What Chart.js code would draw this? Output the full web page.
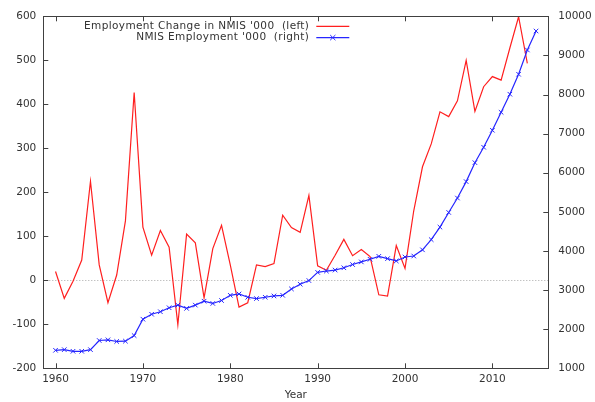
<!DOCTYPE html>
<html>
<head>
<meta charset="utf-8">
<script src="https://cdn.jsdelivr.net/npm/chart.js@4/dist/chart.umd.min.js"></script>
<style>
  html, body { margin: 0; padding: 0; background: #fff; }
  #wrap { width: 595px; height: 402px; position: relative; }
</style>
</head>
<body>
<div id="wrap"><canvas id="c" width="595" height="402"></canvas></div>
<script>
// Years for the employment level series (right axis)
const YEARS_LEVEL = [
  1960, 1961, 1962, 1963, 1964, 1965, 1966, 1967, 1968, 1969,
  1970, 1971, 1972, 1973, 1974, 1975, 1976, 1977, 1978, 1979,
  1980, 1981, 1982, 1983, 1984, 1985, 1986, 1987, 1988, 1989,
  1990, 1991, 1992, 1993, 1994, 1995, 1996, 1997, 1998, 1999,
  2000, 2001, 2002, 2003, 2004, 2005, 2006, 2007, 2008, 2009,
  2010, 2011, 2012, 2013, 2014, 2015
];
// Years for the yearly change series (left axis)
const YEARS_CHANGE = [
  1960, 1961, 1962, 1963, 1964, 1965, 1966, 1967, 1968, 1969,
  1970, 1971, 1972, 1973, 1974, 1975, 1976, 1977, 1978, 1979,
  1980, 1981, 1982, 1983, 1984, 1985, 1986, 1987, 1988, 1989,
  1990, 1991, 1992, 1993, 1994, 1995, 1996, 1997, 1998, 1999,
  2000, 2001, 2002, 2003, 2004, 2005, 2006, 2007, 2008, 2009,
  2010, 2011, 2012, 2013, 2014
];
// Employment change in NMIS, thousands
const EMPLOYMENT_CHANGE = [
   20, -41,  -2,  46, 225,  35, -51,  12, 135, 427,
  121,  57, 113,  75,-101, 105,  85, -40,  72, 125,
   35, -61, -51,  35,  31,  38, 148, 120, 109, 193,
   33,  23,  57,  93,  56,  70,  54, -33, -36,  79,
   27, 158, 258, 310, 383, 372, 408, 500, 384, 440,
  463, 455, 528, 599, 493
];
// NMIS employment level, thousands
const EMPLOYMENT_LEVEL = [
  1460, 1477, 1435, 1435, 1477, 1711, 1728, 1686, 1694, 1837,
  2256, 2382, 2447, 2548, 2615, 2532, 2615, 2716, 2658, 2733,
  2866, 2900, 2816, 2783, 2816, 2850, 2866, 3030, 3150, 3243,
  3452, 3487, 3512, 3570, 3653, 3720, 3788, 3863, 3804, 3745,
  3846, 3871, 4029, 4290, 4610, 4985, 5353, 5773, 6258, 6652,
  7086, 7546, 8008, 8518, 9139, 9624
];
// Axis tick values
const X_TICKS = [1960, 1970, 1980, 1990, 2000, 2010];
const Y_LEFT_TICKS = [-200, -100, 0, 100, 200, 300, 400, 500, 600];
const Y_RIGHT_TICKS = [1000, 2000, 3000, 4000, 5000, 6000, 7000, 8000, 9000, 10000];

const LABEL_CHANGE = "Employment Change in NMIS '000  (left)";
const LABEL_LEVEL = "NMIS Employment '000  (right)";

const FONT = { family: "'DejaVu Sans', Verdana, sans-serif", size: 10.5 };
const TEXT = '#333333';
const FRAME = '#404040';
const RED = '#ff1f1f';
const BLUE = '#2626ff';

const zip = (xs, ys) => xs.map((x, i) => ({ x: x, y: ys[i] }));

// Frame, inward tick marks, zero reference line and key
const decor = {
  id: 'decor',
  beforeDatasetsDraw(chart) {
    const { ctx, chartArea: a } = chart;
    const y0 = chart.scales.y.getPixelForValue(0);
    ctx.save();
    ctx.strokeStyle = '#a8a8a8';
    ctx.lineWidth = 1;
    ctx.setLineDash([1, 2]);
    ctx.beginPath();
    ctx.moveTo(a.left, Math.round(y0) + 0.5);
    ctx.lineTo(a.right, Math.round(y0) + 0.5);
    ctx.stroke();
    ctx.restore();
  },
  afterDraw(chart) {
    const { ctx, chartArea: a, scales } = chart;
    const T = 5;
    ctx.save();
    ctx.strokeStyle = FRAME;
    ctx.lineWidth = 1;
    ctx.beginPath();
    X_TICKS.forEach(v => {
      const px = Math.round(scales.x.getPixelForValue(v)) + 0.5;
      ctx.moveTo(px, a.bottom); ctx.lineTo(px, a.bottom - T);
      ctx.moveTo(px, a.top); ctx.lineTo(px, a.top + T);
    });
    Y_LEFT_TICKS.forEach(v => {
      const py = Math.round(scales.y.getPixelForValue(v)) + 0.5;
      ctx.moveTo(a.left, py); ctx.lineTo(a.left + T, py);
    });
    Y_RIGHT_TICKS.forEach(v => {
      const py = Math.round(scales.y2.getPixelForValue(v)) + 0.5;
      ctx.moveTo(a.right, py); ctx.lineTo(a.right - T, py);
    });
    ctx.stroke();
    ctx.strokeRect(Math.round(a.left) + 0.5, Math.round(a.top) + 0.5,
                   Math.round(a.right - a.left), Math.round(a.bottom - a.top));

    // key, top right inside the frame
    const textRight = a.right - 239;
    const lineL = a.right - 232, lineR = a.right - 199;
    const rows = [
      { label: LABEL_CHANGE, color: RED, marker: false, y: a.top + 10 },
      { label: LABEL_LEVEL, color: BLUE, marker: true, y: a.top + 21.3 }
    ];
    ctx.font = FONT.size + 'px ' + FONT.family;
    ctx.textAlign = 'right';
    ctx.textBaseline = 'middle';
    rows.forEach(r => {
      ctx.fillStyle = TEXT;
      ctx.letterSpacing = '0.37px';
      ctx.fillText(r.label, textRight, r.y);
      ctx.letterSpacing = '0px';
      ctx.strokeStyle = r.color;
      ctx.lineWidth = 1.2;
      ctx.beginPath();
      ctx.moveTo(lineL, r.y); ctx.lineTo(lineR, r.y);
      ctx.stroke();
      if (r.marker) {
        const cx = (lineL + lineR) / 2, s = 2.6;
        ctx.lineWidth = 1;
        ctx.beginPath();
        ctx.moveTo(cx - s, r.y - s); ctx.lineTo(cx + s, r.y + s);
        ctx.moveTo(cx - s, r.y + s); ctx.lineTo(cx + s, r.y - s);
        ctx.stroke();
      }
    });
    ctx.restore();
  }
};

const fixed = (prop, size) => (scale) => { scale[prop] = size; };

new Chart(document.getElementById('c'), {
  type: 'line',
  data: {
    datasets: [
      {
        label: LABEL_LEVEL,
        data: zip(YEARS_LEVEL, EMPLOYMENT_LEVEL),
        yAxisID: 'y2',
        borderColor: BLUE,
        backgroundColor: BLUE,
        borderWidth: 1.2,
        pointStyle: 'crossRot',
        pointRadius: 3.2,
        pointBorderWidth: 1,
        pointBorderColor: BLUE,
        tension: 0,
        order: 0
      },
      {
        label: LABEL_CHANGE,
        data: zip(YEARS_CHANGE, EMPLOYMENT_CHANGE),
        yAxisID: 'y',
        borderColor: RED,
        backgroundColor: RED,
        borderWidth: 1.2,
        pointRadius: 0,
        tension: 0,
        order: 1
      }
    ]
  },
  options: {
    responsive: false,
    animation: false,
    devicePixelRatio: 1,
    layout: { padding: { top: 10, left: 0, right: 0, bottom: 0 } },
    plugins: { legend: { display: false }, tooltip: { enabled: false } },
    scales: {
      x: {
        type: 'linear',
        position: 'bottom',
        min: 1958.6,
        max: 2016.4,
        afterBuildTicks: (s) => { s.ticks = X_TICKS.map(v => ({ value: v })); },
        afterFit: fixed('height', 33.7),
        grid: { display: false, drawTicks: false },
        border: { display: false },
        ticks: { color: TEXT, font: FONT, padding: 5, maxRotation: 0,
                 callback: (v) => String(v) },
        title: { display: true, text: 'Year', color: TEXT, font: FONT,
                 padding: { top: 0, bottom: 0.5 } }
      },
      y: {
        type: 'linear',
        position: 'left',
        min: -200,
        max: 600,
        afterBuildTicks: (s) => { s.ticks = Y_LEFT_TICKS.map(v => ({ value: v })); },
        afterFit: fixed('width', 43.3),
        grid: { display: false, drawTicks: false },
        border: { display: false },
        ticks: { color: TEXT, font: FONT, padding: 7, callback: (v) => String(v) }
      },
      y2: {
        type: 'linear',
        position: 'right',
        min: 1000,
        max: 10000,
        afterBuildTicks: (s) => { s.ticks = Y_RIGHT_TICKS.map(v => ({ value: v })); },
        afterFit: fixed('width', 46.7),
        grid: { display: false, drawTicks: false },
        border: { display: false },
        ticks: { color: TEXT, font: FONT, padding: 10, callback: (v) => String(v) }
      }
    }
  },
  plugins: [decor]
});
</script>
</body>
</html>
